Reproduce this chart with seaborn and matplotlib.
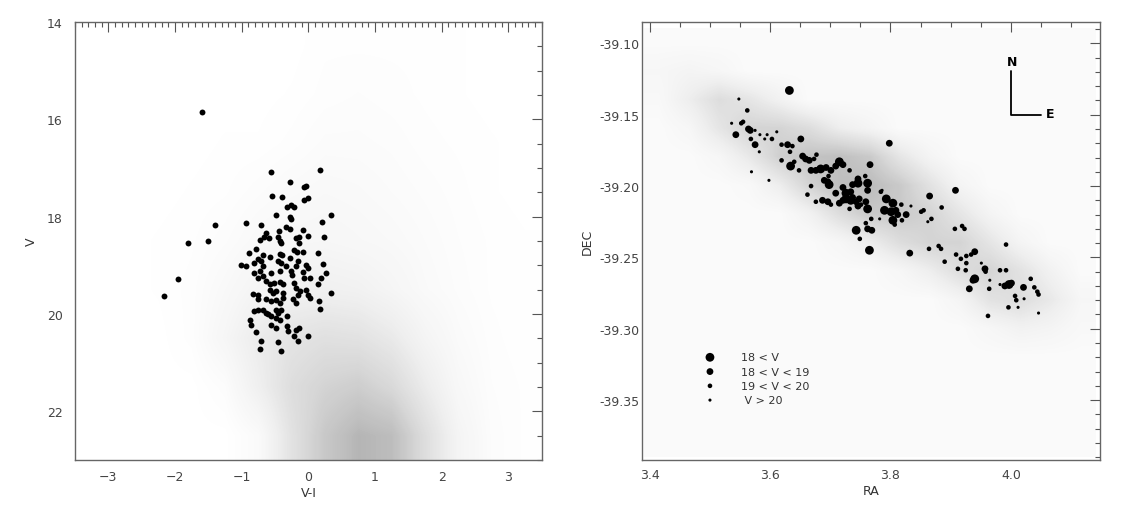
import numpy as np
import pandas as pd
import matplotlib
matplotlib.use("Agg")
import matplotlib.pyplot as plt
from matplotlib.ticker import MultipleLocator
import seaborn as sns

# ---- left panel: colour-magnitude diagram, selected stars (big dots) ----
cmd_vi = [-1.60, -1.40, -1.80, -1.51, -1.95, -2.17,
          -0.56, 0.17, -0.28, -0.04, -0.07, -0.55, -0.40, 0.00, -0.06, -0.32,
          -0.26, -0.21, -0.28, -0.26, -0.48, 0.34, 0.20, -0.93, -0.71, -0.33,
          -0.27, -0.44, -0.63, -0.08, -0.73, -0.67, -0.59, -0.45, -0.41, -0.42,
          -0.18, -0.14, -0.01, 0.23, -0.14, -0.79, -0.89, -0.68, -0.22, -0.17,
          -0.08, -0.43, -0.39, -0.28, 0.14, -0.76, -0.71, -0.81, -0.68, -0.58,
          -0.46, -0.41, -0.15, -1.01, -0.93, -0.33, -0.18, -0.04, -0.01, 0.22,
          -0.81, -0.73, -0.76, -0.68, -0.56, -0.43, -0.26, -0.24, -0.08, -0.06,
          0.02, 0.27, -0.63, -0.58, -0.51, -0.43, -0.38, -0.21, 0.19, 0.14,
          -0.83, -0.76, -0.58, -0.53, -0.48, -0.38, -0.18, -0.13, -0.03, -0.01,
          0.02, -0.16, 0.34, -0.76, -0.63, -0.56, -0.48, -0.43, -0.38, -0.23,
          -0.18, 0.16, -0.81, -0.76, -0.68, -0.63, -0.48, -0.41, -0.46, 0.18,
          -0.88, -0.86, -0.61, -0.56, -0.48, -0.43, -0.32, -0.56, -0.48, -0.32,
          -0.31, -0.18, -0.14, -0.01, -0.78, -0.71, -0.45, -0.21, -0.16, -0.72,
          -0.41]
cmd_v = [15.86, 18.18, 18.54, 18.50, 19.28, 19.63,
         17.09, 17.04, 17.28, 17.37, 17.39, 17.57, 17.59, 17.61, 17.66, 17.80,
         17.76, 17.80, 18.01, 18.05, 17.97, 17.97, 18.10, 18.14, 18.17, 18.21,
         18.25, 18.30, 18.33, 18.28, 18.47, 18.42, 18.43, 18.41, 18.54, 18.49,
         18.43, 18.42, 18.40, 18.42, 18.54, 18.67, 18.74, 18.78, 18.69, 18.72,
         18.73, 18.76, 18.79, 18.85, 18.74, 18.88, 18.91, 18.95, 19.02, 18.83,
         18.91, 18.95, 18.91, 18.99, 19.02, 19.02, 19.02, 19.00, 19.05, 18.98,
         19.15, 19.12, 19.26, 19.22, 19.15, 19.12, 19.12, 19.20, 19.13, 19.27,
         19.26, 19.15, 19.33, 19.39, 19.36, 19.34, 19.38, 19.36, 19.26, 19.39,
         19.59, 19.60, 19.50, 19.57, 19.53, 19.57, 19.46, 19.52, 19.50, 19.60,
         19.67, 19.60, 19.57, 19.70, 19.70, 19.74, 19.72, 19.77, 19.67, 19.70,
         19.78, 19.73, 19.94, 19.91, 19.91, 19.98, 19.91, 19.91, 19.98, 19.90,
         20.12, 20.22, 20.01, 20.05, 20.08, 20.12, 20.05, 20.22, 20.29, 20.25,
         20.34, 20.32, 20.29, 20.45, 20.36, 20.56, 20.58, 20.46, 20.55, 20.71,
         20.75]

# field-star density (rough reading of the stipple), rows V=14.5..22.5, cols V-I=-3.25..3.25
cmd_field = [
    [0, 0, 0, 0, 0, 0, 0, 0.2, 0.2, 0.2, 0.2, 0.1, 0, 0],
    [0, 0, 0, 0, 0, 0, 0.1, 0.3, 0.4, 0.3, 0.2, 0.1, 0, 0],
    [0, 0, 0, 0, 0.1, 0.1, 0.3, 0.6, 0.6, 0.5, 0.3, 0.2, 0.1, 0],
    [0, 0, 0, 0.1, 0.2, 0.5, 0.8, 1.0, 0.9, 0.7, 0.5, 0.3, 0.1, 0],
    [0, 0, 0.1, 0.2, 0.5, 1.0, 1.3, 1.4, 1.2, 1.0, 0.7, 0.4, 0.2, 0.1],
    [0, 0, 0.1, 0.3, 1.0, 1.8, 2.2, 2.4, 2.2, 1.6, 0.9, 0.5, 0.2, 0.1],
    [0, 0, 0, 0.3, 1.5, 3.0, 3.8, 4.2, 4.0, 3.2, 1.8, 0.8, 0.3, 0.1],
    [0, 0, 0, 0, 0.5, 2.5, 4.5, 5.5, 6.0, 5.0, 3.0, 1.2, 0.4, 0.2],
    [0, 0, 0, 0, 0, 0.8, 4.0, 6.5, 8.0, 7.5, 4.5, 1.8, 0.5, 0.2],
]

# ---- right panel: sky positions, size class by magnitude ----
sky_ra = [3.632, 3.548, 3.562, 3.536, 3.552, 3.555, 3.543, 3.564, 3.567, 3.575,
          3.568, 3.575, 3.583, 3.591, 3.595, 3.603, 3.611, 3.582, 3.619, 3.629,
          3.637, 3.651, 3.633, 3.619, 3.640, 3.634, 3.569, 3.598, 3.648, 3.654,
          3.659, 3.665, 3.673, 3.677, 3.668, 3.676, 3.684, 3.693, 3.701, 3.709,
          3.715, 3.721, 3.732, 3.766, 3.798, 3.668, 3.690, 3.696, 3.698, 3.697,
          3.709, 3.721, 3.726, 3.737, 3.734, 3.746, 3.746, 3.762, 3.762, 3.758,
          3.662, 3.676, 3.687, 3.696, 3.701, 3.715, 3.721, 3.726, 3.734, 3.737,
          3.743, 3.748, 3.746, 3.751, 3.759, 3.762, 3.732, 3.768, 3.759, 3.743,
          3.762, 3.769, 3.749, 3.765, 3.782, 3.786,
          3.793, 3.804, 3.790, 3.801, 3.809, 3.812, 3.804, 3.807, 3.818, 3.784,
          3.826, 3.834, 3.819,
          3.908, 3.865, 3.885, 3.851, 3.855, 3.868, 3.862, 3.907, 3.919, 3.923,
          3.832, 3.864, 3.880, 3.884, 3.890, 3.909, 3.917, 3.926, 3.940, 3.934,
          3.992, 3.926, 3.912, 3.925, 3.957, 3.958, 3.951, 3.940, 3.937, 3.931,
          3.965, 3.964, 3.982, 3.992, 3.997, 4.001, 3.990, 3.982, 4.021, 4.033,
          4.039, 4.044, 4.046, 4.007, 4.009, 4.022, 3.996, 4.012, 3.962, 4.046]
sky_dec = [-39.133, -39.139, -39.147, -39.156, -39.156, -39.155, -39.164, -39.160, -39.161, -39.161,
           -39.167, -39.171, -39.164, -39.167, -39.164, -39.167, -39.162, -39.176, -39.171, -39.171,
           -39.172, -39.167, -39.176, -39.182, -39.183, -39.186, -39.190, -39.196, -39.189, -39.179,
           -39.181, -39.182, -39.181, -39.178, -39.189, -39.189, -39.188, -39.187, -39.189, -39.186,
           -39.183, -39.185, -39.189, -39.185, -39.170, -39.200, -39.196, -39.197, -39.199, -39.193,
           -39.205, -39.201, -39.205, -39.199, -39.204, -39.195, -39.198, -39.198, -39.203, -39.193,
           -39.206, -39.211, -39.210, -39.211, -39.213, -39.212, -39.210, -39.209, -39.210, -39.208,
           -39.211, -39.209, -39.214, -39.213, -39.211, -39.216, -39.216, -39.223, -39.226, -39.231,
           -39.230, -39.231, -39.237, -39.245, -39.223, -39.203,
           -39.209, -39.212, -39.217, -39.218, -39.217, -39.220, -39.224, -39.227, -39.213, -39.204,
           -39.220, -39.214, -39.224,
           -39.203, -39.207, -39.215, -39.218, -39.217, -39.223, -39.225, -39.230, -39.228, -39.230,
           -39.247, -39.244, -39.242, -39.244, -39.253, -39.248, -39.251, -39.249, -39.246, -39.248,
           -39.241, -39.254, -39.258, -39.259, -39.258, -39.260, -39.254, -39.265, -39.266, -39.272,
           -39.266, -39.272, -39.259, -39.259, -39.269, -39.268, -39.270, -39.269, -39.271, -39.265,
           -39.271, -39.274, -39.276, -39.277, -39.280, -39.279, -39.285, -39.285, -39.291, -39.289]
sky_cls = ["L", "T", "S", "T", "S", "S", "M", "M", "M", "T",
           "S", "M", "T", "T", "T", "S", "T", "T", "S", "M",
           "S", "M", "S", "S", "S", "L", "T", "T", "S", "M",
           "M", "M", "S", "S", "M", "M", "L", "M", "M", "M",
           "L", "M", "S", "M", "M", "S", "M", "M", "L", "S",
           "M", "M", "L", "M", "M", "M", "L", "L", "M", "S",
           "S", "S", "M", "M", "S", "M", "M", "L", "L", "M",
           "M", "M", "M", "S", "M", "L", "S", "S", "S", "L",
           "M", "M", "S", "L", "T", "T",
           "L", "L", "L", "L", "M", "M", "L", "S", "S", "S",
           "M", "T", "S",
           "M", "M", "S", "S", "S", "S", "T", "S", "S", "S",
           "M", "S", "S", "S", "S", "S", "S", "S", "M", "S",
           "S", "S", "S", "S", "M", "S", "T", "L", "M", "M",
           "T", "S", "S", "S", "L", "M", "M", "T", "M", "S",
           "S", "S", "S", "S", "S", "T", "S", "T", "S", "T"]

# field-star density, rows DEC=-39.10..-39.38 (step 0.02), cols RA=3.415..4.115 (step 0.05)
sky_field = [
    [0.4] * 15,
    [0.8, 1.0, 0.8, 0.4, 0.4, 0.4, 0.4, 0.4, 0.4, 0.4, 0.4, 0.4, 0.4, 0.4, 0.4],
    [0.6, 1.5, 2.5, 2.0, 1.2, 0.4, 0.4, 0.4, 0.4, 0.4, 0.4, 0.4, 0.4, 0.4, 0.4],
    [0.4, 0.8, 2.0, 3.0, 3.0, 2.5, 1.5, 1.0, 0.4, 0.4, 0.4, 0.4, 0.4, 0.4, 0.4],
    [0.4, 0.4, 0.8, 1.8, 3.2, 3.8, 4.0, 3.5, 2.0, 1.0, 0.4, 0.4, 0.4, 0.4, 0.4],
    [0.4, 0.4, 0.4, 0.6, 1.5, 3.0, 4.0, 4.2, 3.5, 2.2, 1.0, 0.4, 0.4, 0.4, 0.4],
    [0.4, 0.4, 0.4, 0.4, 0.4, 1.2, 2.5, 3.5, 3.5, 3.0, 2.0, 1.0, 0.4, 0.4, 0.4],
    [0.4, 0.4, 0.4, 0.4, 0.4, 0.4, 0.8, 1.5, 2.5, 3.0, 3.0, 2.0, 1.0, 0.4, 0.4],
    [0.4, 0.4, 0.4, 0.4, 0.4, 0.4, 0.4, 0.4, 0.8, 1.5, 2.5, 3.0, 2.2, 1.2, 0.4],
    [0.4, 0.4, 0.4, 0.4, 0.4, 0.4, 0.4, 0.4, 0.4, 0.4, 1.0, 2.2, 2.5, 1.8, 0.8],
    [0.4, 0.4, 0.4, 0.4, 0.4, 0.4, 0.4, 0.4, 0.4, 0.4, 0.4, 0.8, 1.2, 1.0, 0.6],
    [0.4] * 15,
    [0.4] * 15,
    [0.4] * 15,
    [0.4] * 15,
]

legend_labels = ["18 < V", "18 < V < 19", "19 < V < 20", " V > 20"]
legend_cls = ["L", "M", "S", "T"]
legend_dec = [-39.32, -39.33, -39.34, -39.35]
size_map = {"L": 40, "M": 24, "S": 11, "T": 5}

sns.set_style("white")
plt.rcParams["font.family"] = ["DejaVu Sans"]
plt.rcParams["font.size"] = 9
plt.rcParams["text.color"] = "#333333"
plt.rcParams["axes.labelcolor"] = "#333333"
plt.rcParams["xtick.color"] = "#444444"
plt.rcParams["ytick.color"] = "#444444"

fig = plt.figure(figsize=(11.33, 5.10), dpi=100)
ax1 = fig.add_axes([0.0662, 0.096, 0.412, 0.859])
ax2 = fig.add_axes([0.5666, 0.096, 0.4042, 0.859])


def style_axes(ax, xpad, ypad):
    for sp in ax.spines.values():
        sp.set_color("#666666")
        sp.set_linewidth(1.0)
    ax.tick_params(which="both", direction="in", top=True, right=True,
                   color="#555555", width=0.8)
    ax.tick_params(which="major", length=7)
    ax.tick_params(which="minor", length=3.5)
    ax.tick_params(axis="x", which="both", pad=xpad)
    ax.tick_params(axis="y", which="both", pad=ypad)


# left panel
ax1.imshow(np.array(cmd_field), extent=(-3.5, 3.5, 23, 14), origin="upper",
           cmap="Greys", vmin=0, vmax=20, aspect="auto", interpolation="bilinear",
           zorder=0)
cmd_df = pd.DataFrame({"vi": cmd_vi, "v": cmd_v})
sns.scatterplot(data=cmd_df, x="vi", y="v", ax=ax1, color="black", s=18,
                linewidth=0, legend=False, zorder=3)
ax1.set_xlim(-3.5, 3.5)
ax1.set_ylim(23, 14)
ax1.xaxis.set_major_locator(MultipleLocator(1))
ax1.xaxis.set_minor_locator(MultipleLocator(0.1))
ax1.yaxis.set_major_locator(MultipleLocator(2))
ax1.yaxis.set_minor_locator(MultipleLocator(0.5))
ax1.set_xlabel("V-I", labelpad=2)
ax1.set_ylabel("V", labelpad=6)
style_axes(ax1, 7, 9)

# right panel
ax2.imshow(np.array(sky_field), extent=(3.39, 4.14, -39.39, -39.09), origin="upper",
           cmap="Greys", vmin=0, vmax=11, aspect="auto", interpolation="bilinear",
           zorder=0)
sky_df = pd.DataFrame({"ra": sky_ra, "dec": sky_dec, "cls": sky_cls})
sns.scatterplot(data=sky_df, x="ra", y="dec", size="cls", sizes=size_map,
                ax=ax2, color="black", linewidth=0, legend=False, zorder=3)
leg_df = pd.DataFrame({"ra": [3.50] * 4, "dec": legend_dec, "cls": legend_cls})
sns.scatterplot(data=leg_df, x="ra", y="dec", size="cls", sizes=size_map,
                ax=ax2, color="black", linewidth=0, legend=False, zorder=3)
for lab, d in zip(legend_labels, legend_dec):
    ax2.text(3.551, d, lab, fontsize=8, va="center", ha="left")

# north / east compass
ax2.plot([4.0, 4.0, 4.05], [-39.1196, -39.1504, -39.1504], color="black", lw=1.3)
ax2.text(4.002, -39.1125, "N", fontsize=9, fontweight="bold", ha="center", va="center",
         color="black")
ax2.text(4.058, -39.1495, "E", fontsize=9, fontweight="bold", ha="left", va="center",
         color="black")

ax2.set_xlim(3.387, 4.148)
ax2.set_ylim(-39.392, -39.085)
ax2.xaxis.set_major_locator(MultipleLocator(0.2))
ax2.xaxis.set_minor_locator(MultipleLocator(0.05))
ax2.yaxis.set_major_locator(MultipleLocator(0.05))
ax2.yaxis.set_minor_locator(MultipleLocator(0.01))
ax2.xaxis.set_major_formatter(plt.FormatStrFormatter("%.1f"))
ax2.yaxis.set_major_formatter(plt.FormatStrFormatter("%.2f"))
ax2.set_xlabel("RA", labelpad=2)
ax2.set_ylabel("DEC", labelpad=4)
style_axes(ax2, 6, 2)

fig.savefig("out.png", dpi=100)
plt.close(fig)
